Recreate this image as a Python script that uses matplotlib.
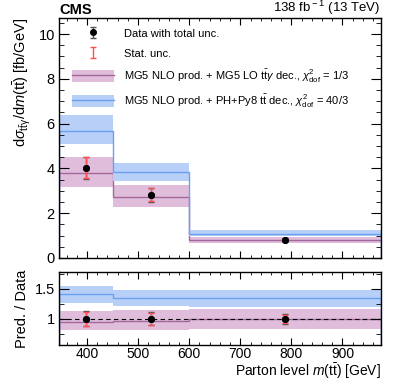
import matplotlib
matplotlib.use("Agg")
import matplotlib.pyplot as plt
import numpy as np
from matplotlib.patches import Patch
from matplotlib.lines import Line2D
from matplotlib.ticker import MultipleLocator

plt.rcParams['font.family'] = ['Liberation Sans', 'DejaVu Sans']
plt.rcParams['mathtext.fontset'] = 'custom'
plt.rcParams['mathtext.rm'] = 'Liberation Sans'
plt.rcParams['mathtext.it'] = 'Liberation Sans:italic'
plt.rcParams['mathtext.bf'] = 'Liberation Sans:bold'

# ---- data ----
bin_edges = [345, 450, 600, 975]
data_vals = [4.03, 2.82, 0.82]
data_tot = [0.50, 0.31, 0.05]
data_stat = [0.47, 0.29, 0.04]

lo_vals = [3.79, 2.70, 0.79]
lo_up = [4.52, 3.25, 0.95]
lo_dn = [3.18, 2.28, 0.68]

pp_vals = [5.68, 3.85, 1.09]
pp_up = [6.38, 4.25, 1.24]
pp_dn = [5.07, 3.43, 0.98]

r_data_tot = [0.125, 0.11, 0.08]
r_data_stat = [0.115, 0.10, 0.07]
r_lo_vals = [0.955, 0.97, 0.99]
r_lo_up = [1.135, 1.15, 1.16]
r_lo_dn = [0.81, 0.82, 0.83]
r_pp_vals = [1.42, 1.35, 1.34]
r_pp_up = [1.54, 1.48, 1.48]
r_pp_dn = [1.27, 1.22, 1.20]

lab_data = "Data with total unc."
lab_stat = "Stat. unc."
lab_lo = r"MG5 NLO prod. + MG5 LO t$\bar{\rm t}\gamma$ dec., $\chi^2_{\rm dof}$ = 1/3"
lab_pp = r"MG5 NLO prod. + PH+Py8 t$\bar{\rm t}$ dec., $\chi^2_{\rm dof}$ = 40/3"

# ---- style ----
c_lo_band = '#dfbddb'
c_lo_line = '#a2679d'
c_pp_band = '#b8d0f8'
c_pp_line = '#6b9ff0'
c_stat = '#ff5050'

edges = np.array(bin_edges)
centers = 0.5 * (edges[:-1] + edges[1:])

fig = plt.figure(figsize=(3.93, 3.81), dpi=100)
ax = fig.add_axes([0.150, 0.323, 0.819, 0.630])
axr = fig.add_axes([0.150, 0.094, 0.819, 0.192], sharex=ax)

def draw(a, v, up, dn, band, line):
    a.stairs(up, edges, baseline=dn, fill=True, color=band, lw=0)
    a.stairs(v, edges, color=line, lw=1.0)

draw(ax, lo_vals, lo_up, lo_dn, c_lo_band, c_lo_line)
draw(ax, pp_vals, pp_up, pp_dn, c_pp_band, c_pp_line)
h_data = ax.errorbar(centers, data_vals, yerr=data_tot, fmt='o', color='black', ecolor='#555555',
                     ms=4, capsize=2.5, elinewidth=1.0, capthick=1.0, zorder=5)
h_stat = ax.errorbar(centers, data_vals, yerr=data_stat, fmt='none', ecolor=c_stat,
                     capsize=2.0, elinewidth=1.0, capthick=1.0, zorder=6)
ax.plot(centers, data_vals, 'o', color='black', ms=4, zorder=7)

draw(axr, r_lo_vals, r_lo_up, r_lo_dn, c_lo_band, c_lo_line)
draw(axr, r_pp_vals, r_pp_up, r_pp_dn, c_pp_band, c_pp_line)
axr.axhline(1.0, color='black', ls='--', lw=0.8, dashes=(4, 3), zorder=4)
ones = np.ones(len(centers))
axr.errorbar(centers, ones, yerr=r_data_tot, fmt='o', color='black', ecolor='#555555',
             ms=4, capsize=2.5, elinewidth=1.0, capthick=1.0, zorder=5)
axr.errorbar(centers, ones, yerr=r_data_stat, fmt='none', ecolor=c_stat,
             capsize=2.0, elinewidth=1.0, capthick=1.0, zorder=6)
axr.plot(centers, ones, 'o', color='black', ms=4, zorder=7)

ax.set_xlim(bin_edges[0], bin_edges[-1])
ax.set_ylim(0, 10.72)
axr.set_ylim(0.56, 1.78)

for a in (ax, axr):
    a.tick_params(which='both', direction='in', top=True, right=True, labelsize=10.5)
    a.tick_params(which='major', axis='y', length=7, pad=3)
    a.tick_params(which='minor', axis='y', length=3.5)
    a.tick_params(which='major', axis='x', length=5, pad=1.5, labelsize=10)
    a.tick_params(which='minor', axis='x', length=2.5)
    a.xaxis.set_major_locator(MultipleLocator(100))
    a.xaxis.set_minor_locator(MultipleLocator(20))
    for s in a.spines.values():
        s.set_linewidth(1.0)
ax.yaxis.set_major_locator(MultipleLocator(2))
ax.yaxis.set_minor_locator(MultipleLocator(0.5))
axr.yaxis.set_major_locator(MultipleLocator(0.5))
axr.yaxis.set_minor_locator(MultipleLocator(0.25))
axr.set_yticks([1.0, 1.5])
axr.set_yticklabels(['1', '1.5'])
plt.setp(ax.get_xticklabels(), visible=False)

ax.set_ylabel(r"d$\sigma_{\rm t\bar{t}\gamma}$/d$m$(t$\bar{\rm t}$) [fb/GeV]", fontsize=10.5, loc='top')
axr.set_ylabel("Pred. / Data", fontsize=10.5)
axr.set_xlabel(r"Parton level $m$(t$\bar{\rm t}$) [GeV]", fontsize=10, loc='right', labelpad=0.2)
fig.align_ylabels([ax, axr])

ax.text(0.0, 1.003, "CMS", transform=ax.transAxes, fontsize=10.5, fontweight='bold',
        ha='left', va='bottom')
ax.text(1.0, 1.003, r"138 fb$^{\rm -1}$ (13 TeV)", transform=ax.transAxes, fontsize=9.5,
        ha='right', va='bottom')

h_lo = (Patch(facecolor=c_lo_band, lw=0), Line2D([], [], color=c_lo_line, lw=1.0))
h_pp = (Patch(facecolor=c_pp_band, lw=0), Line2D([], [], color=c_pp_line, lw=1.0))
ax.legend([h_data, h_stat, h_lo, h_pp], [lab_data, lab_stat, lab_lo, lab_pp],
          loc='upper left', bbox_to_anchor=(0.04, 0.96), frameon=False, fontsize=8,
          handlelength=3.8, handleheight=1.3, labelspacing=0.72, borderpad=0,
          handletextpad=0.9, borderaxespad=0)

fig.savefig("out.png", dpi=100)
